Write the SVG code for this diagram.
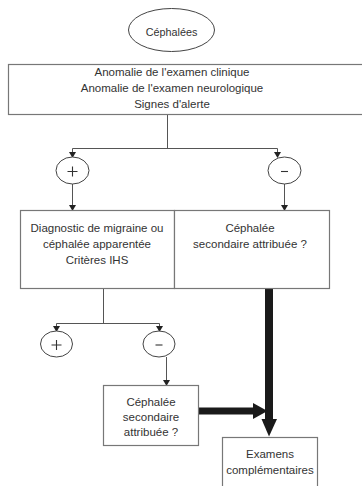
<svg xmlns="http://www.w3.org/2000/svg" width="362" height="486" viewBox="0 0 362 486">
<style>
text{font-family:"Liberation Sans",Arial,sans-serif;font-size:11.5px;fill:#333;text-anchor:middle}
.box{fill:#fff;stroke:#777;stroke-width:1.2}
.ov{fill:#fff;stroke:#444;stroke-width:1}
.ln{fill:none;stroke:#555;stroke-width:1}
.thick{fill:none;stroke:#1a1a1a}
.sg{fill:none;stroke:#333;stroke-width:1.1}
</style>
<defs>
<marker id="ah" markerWidth="6" markerHeight="7" refX="5" refY="3.5" orient="auto" markerUnits="userSpaceOnUse">
<path d="M0,0 L6,3.5 L0,7 Z" fill="#222"/>
</marker>
</defs>
<rect width="362" height="486" fill="#fff"/>
<g id="connectors">
<path class="ln" d="M167.5,114.5 V148.5 M72.5,148.5 H277.5"/>
<path class="ln" d="M72.5,148.5 V157" marker-end="url(#ah)"/>
<path class="ln" d="M277.5,148.5 V157" marker-end="url(#ah)"/>
<path class="ln" d="M72.5,184 V210" marker-end="url(#ah)"/>
<path class="ln" d="M284.5,184 V210" marker-end="url(#ah)"/>
<path class="ln" d="M103.5,289 V323.5 M56.5,323.5 H159.5"/>
<path class="ln" d="M56.5,323.5 V331" marker-end="url(#ah)"/>
<path class="ln" d="M159.5,323.5 V331" marker-end="url(#ah)"/>
<path class="ln" d="M166.5,357 V385" marker-end="url(#ah)"/>
<path class="thick" stroke-width="8" d="M269,289 V420"/>
<path d="M261.5,419 L277,419 L269,436.5 Z" fill="#1a1a1a"/>
<path class="thick" stroke-width="7" d="M198.5,411 H254"/>
<path d="M253,403 L267.5,411 L253,419 Z" fill="#1a1a1a"/>
</g>
<g id="n-cephalees">
<ellipse class="ov" cx="171.5" cy="30" rx="43" ry="21.5"/>
<text x="171.5" y="36" style="font-size:10.8px">Céphalées</text>
</g>
<g id="n-anomalie">
<rect class="box" x="8.5" y="64.5" width="360" height="50"/>
<text x="172" y="76">Anomalie de l'examen clinique</text>
<text x="172" y="92">Anomalie de l'examen neurologique</text>
<text x="172" y="108">Signes d'alerte</text>
</g>
<g id="n-plus1">
<ellipse class="ov" cx="72.5" cy="170.5" rx="16.5" ry="13.5"/>
<path class="sg" d="M67.5,171.5 H77.5 M72.5,166.5 V176.5"/>
</g>
<g id="n-minus1">
<ellipse class="ov" cx="284.5" cy="170.5" rx="16.5" ry="13.5"/>
<path class="sg" d="M281,171.5 H288"/>
</g>
<g id="n-diagnostic">
<rect class="box" x="20.5" y="210.5" width="154" height="78"/>
<text x="97" y="231.5">Diagnostic de migraine ou</text>
<text x="97" y="247.5">céphalée apparentée</text>
<text x="97" y="263.5">Critères IHS</text>
</g>
<g id="n-secondaire1">
<rect class="box" x="174.5" y="210.5" width="155" height="78"/>
<text x="250" y="231.5">Céphalée</text>
<text x="250" y="247.5">secondaire attribuée ?</text>
</g>
<g id="n-plus2">
<ellipse class="ov" cx="56.5" cy="344" rx="16" ry="13"/>
<path class="sg" d="M51.5,345 H61.5 M56.5,340 V350"/>
</g>
<g id="n-minus2">
<ellipse class="ov" cx="159" cy="344" rx="16" ry="13"/>
<path class="sg" d="M155.5,345 H162.5"/>
</g>
<g id="n-secondaire2">
<rect class="box" x="103.5" y="385.5" width="95" height="60"/>
<text x="151" y="406">Céphalée</text>
<text x="151" y="421">secondaire</text>
<text x="151" y="436">attribuée ?</text>
</g>
<g id="n-examens">
<rect class="box" x="222.5" y="437.5" width="95" height="60"/>
<text x="270" y="457.5">Examens</text>
<text x="270" y="474">complémentaires</text>
</g>
</svg>
